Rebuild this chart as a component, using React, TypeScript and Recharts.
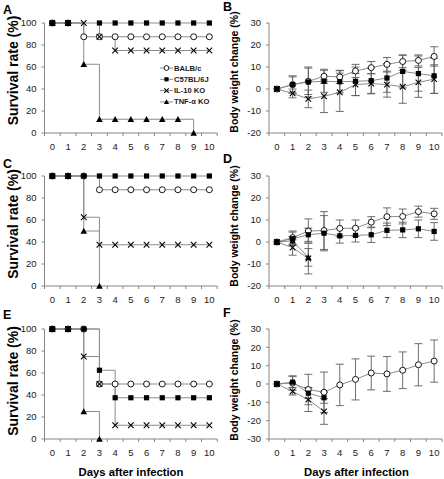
import { LineChart, Line, XAxis, YAxis, ErrorBar, Legend } from 'recharts';

const FONT = '"Liberation Sans", Arial, sans-serif';
const LINE = '#8c8c8c';
const AXIS = '#858585';
const BAR = '#5e5e5e';
const INK = '#1a1a1a';

const days = [0, 1, 2, 3, 4, 5, 6, 7, 8, 9, 10];
// labels sit on whole days, tick marks fall between them
const xTicks = [...days.map((d) => d - 0.5), ...days, 10.5].sort((a, b) => a - b);
const survivalTicks = [0, 20, 40, 60, 80, 100];
const weightTicks = [-20, -10, 0, 10, 20, 30];
const weightTicksF = [-30, -20, -10, 0, 10, 20, 30];

// survival (%) — A  (no C57 marker is drawn on day 2)
const balbA = [100, 100, 87.5, 87.5, 87.5, 87.5, 87.5, 87.5, 87.5, 87.5, 87.5];
const c57A = [100, 100, null, 100, 100, 100, 100, 100, 100, 100, 100];
const il10A = [100, 100, 100, 87.5, 75, 75, 75, 75, 75, 75, 75];
const tnfA = [100, 100, 62.5, 12.5, 12.5, 12.5, 12.5, 12.5, 12.5, 0, null];
// survival (%) — C
const balbC = [100, 100, 100, 87.5, 87.5, 87.5, 87.5, 87.5, 87.5, 87.5, 87.5];
const c57C = [100, 100, 100, 100, 100, 100, 100, 100, 100, 100, 100];
const il10C = [100, 100, 62.5, 37.5, 37.5, 37.5, 37.5, 37.5, 37.5, 37.5, 37.5];
const tnfC = [100, 100, 50, 0, null, null, null, null, null, null, null];
// survival (%) — E
const balbE = [100, 100, 100, 50, 50, 50, 50, 50, 50, 50, 50];
const c57E = [100, 100, 100, 62.5, 37.5, 37.5, 37.5, 37.5, 37.5, 37.5, 37.5];
const il10E = [100, 100, 75, 50, 12.5, 12.5, 12.5, 12.5, 12.5, 12.5, 12.5];
const tnfE = [100, 100, 25, 0, null, null, null, null, null, null, null];

// body weight change (%) — B
const balbB = [0, 2, 3.5, 5.8, 5.5, 8.2, 9.7, 11.2, 12.5, 13, 14.8];
const balbBErr = [0, 3.5, 6, 3.2, 3, 3, 2.8, 3.1, 2.8, 2.5, 4.4];
const c57B = [0, 2, 3.2, 3.5, 3.3, 3.5, 3.8, 5, 8, 7, 6];
const c57BErr = [0, 4, 6.8, 5, 5, 6.5, 6, 6.5, 7.5, 8, 8];
const il10B = [0, -2, -4.5, -3.3, -1.5, 2, 2.5, 2, 1, 3, 4.5];
const il10BErr = [0, 2, 4, 7.4, 8.7, 5, 4.5, 5.7, 7.5, 6.8, 6.5];
// body weight change (%) — D
const balbD = [0, 2, 5, 5.2, 6.2, 6.3, 9, 11.5, 11.6, 13.8, 12.8];
const balbDErr = [0, 3, 5.5, 8.6, 3.8, 3.7, 2.5, 4, 3.4, 2.5, 2.5];
const c57D = [0, 1.5, 3.3, 4, 2.8, 3, 3.3, 5.3, 5.5, 6, 4.8];
const c57DErr = [0, 3, 3, 8, 3.3, 3, 3.5, 3.3, 3.5, 4, 4];
const il10D = [0, -2.5, -7.5, null, null, null, null, null, null, null, null];
const il10DErr = [0, 3.5, 7, null, null, null, null, null, null, null, null];
const tnfD = [0, 0.5, -7, null, null, null, null, null, null, null, null];
const tnfDErr = [0, 2, 4, null, null, null, null, null, null, null, null];
// body weight change (%) — F
const balbF = [0, 0.5, -3, -4.5, -0.5, 2.5, 6, 5.5, 7.5, 10.5, 12.5];
const balbFErr = [0, 4, 8.3, 11, 11.3, 11.2, 9.2, 9.5, 10, 11.5, 11.5];
const c57F = [0, 1, -5, -7.5, null, null, null, null, null, null, null];
const c57FErr = [0, 3, 3, 3, null, null, null, null, null, null, null];
const il10F = [0, -4, -8.5, -15, null, null, null, null, null, null, null];
const il10FErr = [0, 2, 6.5, 7, null, null, null, null, null, null, null];

type Col = (number | null)[];
const rows = (cols: Record<string, Col>) =>
  days.map((day, i) => {
    const r: Record<string, number | null> = { day };
    for (const k of Object.keys(cols)) r[k] = cols[k][i] ?? null;
    return r;
  });

type Kind = 'circle' | 'square' | 'cross' | 'triangle';

function Marker({ kind, cx, cy, s = 1 }: { kind: Kind; cx: number; cy: number; s?: number }) {
  if (kind === 'circle') return <circle cx={cx} cy={cy} r={3 * s} fill="#fff" stroke="#000" strokeWidth={0.9} />;
  if (kind === 'square') {
    const h = 2.6 * s;
    return <rect x={cx - h} y={cy - h} width={2 * h} height={2 * h} fill="#000" />;
  }
  if (kind === 'cross') {
    const h = 2.8 * s;
    return (
      <path d={`M${cx - h},${cy - h}L${cx + h},${cy + h}M${cx - h},${cy + h}L${cx + h},${cy - h}`} stroke="#000" strokeWidth={1.1} />
    );
  }
  const h = 3.3 * s;
  return <path d={`M${cx},${cy - h}L${cx + h},${cy + h * 0.8}L${cx - h},${cy + h * 0.8}Z`} fill="#000" />;
}

const makeDot = (kind: Kind) => (props: any) => {
  const { cx, cy, index, value } = props;
  if (cx == null || cy == null || value == null || Number.isNaN(cy)) return <g key={`d${index}`} />;
  return (
    <g key={`d${index}`}>
      <Marker kind={kind} cx={cx} cy={cy} />
    </g>
  );
};

function XTick(props: any) {
  const { x, y, payload } = props;
  const v = payload.value;
  if (!Number.isInteger(v)) return <line x1={x} x2={x} y1={y - 10} y2={y - 7} stroke={AXIS} />;
  return (
    <text x={x} y={y} dy="0.71em" textAnchor="middle" fontSize={9.5} fill={INK} fontFamily={FONT}>
      {v}
    </text>
  );
}

function YTitle({ text, cx, cy, size, letter, lx, ly }: any) {
  return (
    <g fontFamily={FONT} fontWeight="bold" fill="#000">
      <text x={lx} y={ly} fontSize={12.5}>{letter}</text>
      <text x={cx} y={cy} fontSize={size} textAnchor="middle" dominantBaseline="central" transform={`rotate(-90 ${cx} ${cy})`}>
        {text}
      </text>
    </g>
  );
}

function XTitle({ cx, cy }: any) {
  return (
    <text x={cx} y={cy} fontSize={11.3} fontWeight="bold" fontFamily={FONT} fill="#000" textAnchor="middle" dominantBaseline="central">
      Days after infection
    </text>
  );
}

const legendItems: { name: string; kind: Kind }[] = [
  { name: 'BALB/c', kind: 'circle' },
  { name: 'C57BL/6J', kind: 'square' },
  { name: 'IL-10 KO', kind: 'cross' },
  { name: 'TNF-α KO', kind: 'triangle' },
];

function LegendBox() {
  return (
    <svg width={66} height={46} style={{ display: 'block' }}>
      {legendItems.map((it, i) => {
        const y = 6 + i * 11.3;
        return (
          <g key={it.name}>
            <line x1={4} x2={17} y1={y} y2={y} stroke={LINE} />
            <Marker kind={it.kind} cx={10.5} cy={y} s={0.8} />
            <text x={18} y={y} fontSize={7.6} fontWeight="bold" fontFamily={FONT} fill={INK} dominantBaseline="central">
              {it.name}
            </text>
          </g>
        );
      })}
    </svg>
  );
}

type Series = { key: string; err?: string; kind: Kind };

type PanelProps = {
  data: Record<string, number | null>[];
  series: Series[];
  yDomain: [number, number];
  yTicks: number[];
  yTitle: string;
  titleSize: number;
  titleX: number;
  titleY: number;
  letter: string;
  letterY: number;
  right?: boolean;
  bottom?: boolean;
  step?: boolean;
  legend?: boolean;
};

function Panel(p: PanelProps) {
  return (
    <LineChart
      width={222}
      height={p.bottom ? 173 : 153}
      data={p.data}
      margin={{ top: 23, right: p.right ? 2 : 4.8, bottom: 0, left: 0 }}
    >
      <XAxis
        dataKey="day"
        type="number"
        domain={[-0.5, 10.5]}
        ticks={xTicks}
        interval={0}
        tickLine={false}
        tickSize={0}
        tickMargin={10}
        height={p.bottom ? 40 : 20}
        axisLine={{ stroke: AXIS }}
        tick={<XTick />}
        label={p.bottom ? <XTitle cx={p.right ? 134.5 : 131} cy={166} /> : undefined}
      />
      <YAxis
        type="number"
        domain={p.yDomain}
        ticks={p.yTicks}
        interval={0}
        width={p.right ? 47 : 44.5}
        tickSize={3}
        tickMargin={5}
        tick={{ fontSize: 9.5, fill: INK, fontFamily: FONT }}
        tickLine={{ stroke: AXIS }}
        axisLine={{ stroke: AXIS }}
        label={
          <YTitle
            text={p.yTitle}
            size={p.titleSize}
            cx={p.titleX}
            cy={p.titleY}
            letter={p.letter}
            lx={p.right ? 1 : 3}
            ly={p.letterY}
          />
        }
      />
      {p.series.map((s) => (
        <Line
          key={s.key}
          dataKey={s.key}
          type={p.step ? 'stepAfter' : 'linear'}
          stroke={LINE}
          strokeWidth={1}
          dot={makeDot(s.kind)}
          activeDot={false}
          connectNulls={false}
          isAnimationActive={false}
        >
          {s.err && <ErrorBar dataKey={s.err} direction="y" width={4} stroke={BAR} strokeWidth={0.9} />}
        </Line>
      ))}
      {p.legend && (
        <Legend
          layout="vertical"
          align="center"
          verticalAlign="middle"
          content={() => <LegendBox />}
          wrapperStyle={{ left: 156, top: 62, width: 66 }}
        />
      )}
    </LineChart>
  );
}

const survSeries: Series[] = [
  { key: 'balb', kind: 'circle' },
  { key: 'c57', kind: 'square' },
  { key: 'il10', kind: 'cross' },
  { key: 'tnf', kind: 'triangle' },
];

// C57BL/6J is drawn last so its square sits on top at day 0
const weightSeries: Series[] = [
  { key: 'balb', err: 'balbErr', kind: 'circle' },
  { key: 'il10', err: 'il10Err', kind: 'cross' },
  { key: 'tnf', err: 'tnfErr', kind: 'triangle' },
  { key: 'c57', err: 'c57Err', kind: 'square' },
];

const dataA = rows({ balb: balbA, c57: c57A, il10: il10A, tnf: tnfA });
const dataC = rows({ balb: balbC, c57: c57C, il10: il10C, tnf: tnfC });
const dataE = rows({ balb: balbE, c57: c57E, il10: il10E, tnf: tnfE });
const dataB = rows({ balb: balbB, balbErr: balbBErr, c57: c57B, c57Err: c57BErr, il10: il10B, il10Err: il10BErr });
const dataD = rows({
  balb: balbD, balbErr: balbDErr, c57: c57D, c57Err: c57DErr,
  il10: il10D, il10Err: il10DErr, tnf: tnfD, tnfErr: tnfDErr,
});
const dataF = rows({ balb: balbF, balbErr: balbFErr, c57: c57F, c57Err: c57FErr, il10: il10F, il10Err: il10FErr });

const noTnf = weightSeries.filter((s) => s.key !== 'tnf');

const SURV = 'Survival rate (%)';
const WEIGHT = 'Body weight change (%)';

const cell = (left: number, top: number): React.CSSProperties => ({ position: 'absolute', left, top });

export default function App() {
  return (
    <div style={{ position: 'absolute', left: 0, top: 0, width: 444, height: 479, background: '#fff', overflow: 'hidden' }}>
      <div style={cell(0, 0)}>
        <Panel data={dataA} series={survSeries} step legend yDomain={[0, 100]} yTicks={survivalTicks}
          yTitle={SURV} titleSize={14} titleX={13} titleY={70.5} letter="A" letterY={14} />
      </div>
      <div style={cell(222, 0)}>
        <Panel data={dataB} series={noTnf} right yDomain={[-20, 30]} yTicks={weightTicks}
          yTitle={WEIGHT} titleSize={10.5} titleX={12} titleY={72} letter="B" letterY={11} />
      </div>
      <div style={cell(0, 153)}>
        <Panel data={dataC} series={survSeries} step yDomain={[0, 100]} yTicks={survivalTicks}
          yTitle={SURV} titleSize={14} titleX={13} titleY={71} letter="C" letterY={14.5} />
      </div>
      <div style={cell(222, 153)}>
        <Panel data={dataD} series={weightSeries} right yDomain={[-20, 30]} yTicks={weightTicks}
          yTitle={WEIGHT} titleSize={10.5} titleX={12} titleY={73} letter="D" letterY={9.5} />
      </div>
      <div style={cell(0, 306)}>
        <Panel data={dataE} series={survSeries} step bottom yDomain={[0, 100]} yTicks={survivalTicks}
          yTitle={SURV} titleSize={14} titleX={13} titleY={75} letter="E" letterY={13} />
      </div>
      <div style={cell(222, 306)}>
        <Panel data={dataF} series={noTnf} right bottom yDomain={[-30, 30]} yTicks={weightTicksF}
          yTitle={WEIGHT} titleSize={10.5} titleX={12} titleY={74} letter="F" letterY={10.5} />
      </div>
    </div>
  );
}
